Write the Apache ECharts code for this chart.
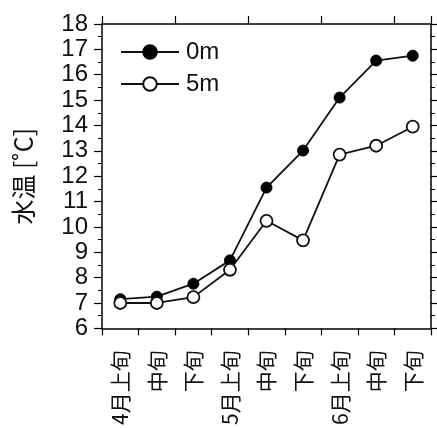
<!DOCTYPE html>
<html><head><meta charset="utf-8">
<script src="https://cdn.jsdelivr.net/npm/echarts@6/dist/echarts.min.js"></script>
<style>html,body{margin:0;padding:0;background:#fff}#c{width:437px;height:428px}</style>
</head><body><div id="c"></div>
<script>
const categories = ['4月上旬','中旬','下旬','5月上旬','中旬','下旬','6月上旬','中旬','下旬'];
const surface0m = [7.15, 7.25, 7.76, 8.68, 11.55, 13.01, 15.1, 16.56, 16.75];
const depth5m = [7.0, 7.0, 7.23, 8.31, 10.24, 9.47, 12.85, 13.2, 13.95];
const yName = '水温 [˚C]';
const seriesNames = ['0m', '5m'];

const chart = echarts.init(document.getElementById('c'), null, {renderer: 'canvas'});
const axisLine = {show: true, lineStyle: {color: '#000', width: 1.5}};
const numFont = 'Liberation Sans, Arial, sans-serif';
const cjkFont = '"Noto Sans CJK JP", sans-serif';
chart.setOption({
  animation: false,
  backgroundColor: '#fff',
  grid: {left: 102, right: 6, top: 24, bottom: 99, containLabel: false},
  legend: {
    orient: 'vertical', left: 115, top: 35, itemWidth: 58, itemHeight: 17, itemGap: 8,
    textStyle: {fontFamily: numFont, fontSize: 24, color: '#111', padding: [0,0,0,2]},
    data: seriesNames
  },
  xAxis: [{
    type: 'category', data: categories, position: 'bottom',
    axisLine: axisLine,
    axisTick: {show: true, inside: false, length: 7, lineStyle: {color: '#000', width: 1.2}},
    axisLabel: {rotate: 90, fontFamily: cjkFont, fontSize: 21, color: '#111', margin: 22}
  }, {
    type: 'category', data: categories, position: 'top',
    axisLine: axisLine,
    axisTick: {show: true, inside: false, length: 8, lineStyle: {color: '#000', width: 1.2}},
    axisLabel: {show: false}
  }],
  yAxis: [{
    type: 'value', min: 6, max: 18, interval: 1, position: 'left',
    name: yName, nameLocation: 'middle', nameGap: 66, nameRotate: 90,
    nameTextStyle: {fontFamily: cjkFont, fontSize: 25, color: '#111'},
    axisLine: axisLine,
    axisTick: {show: true, inside: false, length: 8, lineStyle: {color: '#000', width: 1.2}},
    minorTick: {show: true, splitNumber: 2, length: 4, lineStyle: {color: '#000', width: 1}},
    splitLine: {show: false},
    axisLabel: {fontFamily: numFont, fontSize: 24, color: '#111', margin: 14}
  }, {
    type: 'value', min: 6, max: 18, interval: 1, position: 'right',
    axisLine: axisLine,
    axisTick: {show: true, inside: false, length: 6, lineStyle: {color: '#000', width: 1.2}},
    minorTick: {show: true, splitNumber: 2, length: 4, lineStyle: {color: '#000', width: 1}},
    splitLine: {show: false},
    axisLabel: {show: false}
  }],
  series: [{
    name: seriesNames[0], type: 'line', data: surface0m,
    symbol: 'circle', symbolSize: 11,
    lineStyle: {color: '#111', width: 1.8},
    itemStyle: {color: '#000', borderColor: '#000', borderWidth: 1}
  }, {
    name: seriesNames[1], type: 'line', data: depth5m,
    symbol: 'circle', symbolSize: 12,
    lineStyle: {color: '#111', width: 1.8},
    itemStyle: {color: '#fff', borderColor: '#111', borderWidth: 1.8}
  }]
});
</script></body></html>
